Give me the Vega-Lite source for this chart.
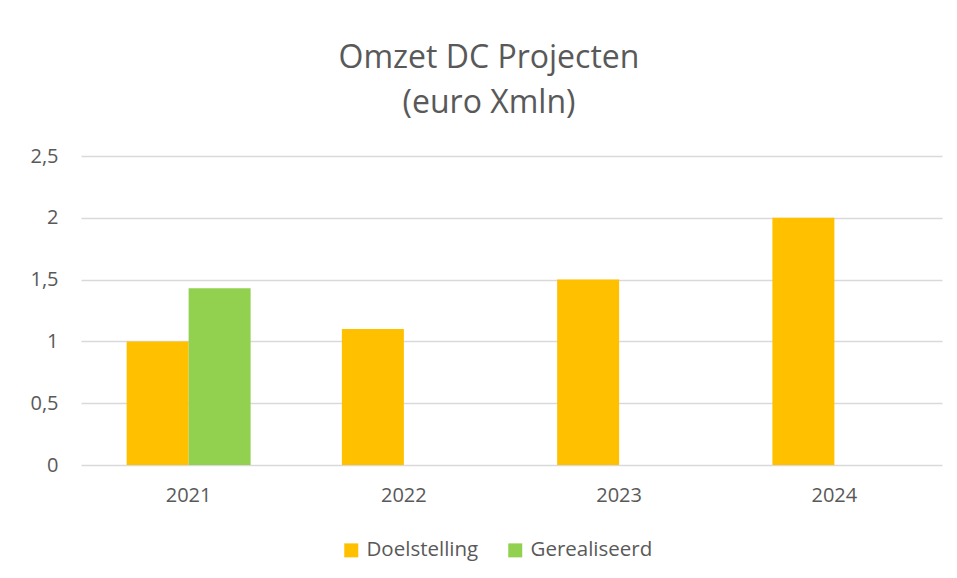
{
  "$schema": "https://vega.github.io/schema/vega-lite/v6.json",
  "width": 861,
  "height": 309,
  "autosize": {"type": "none"},
  "padding": {"left": 81, "top": 156, "right": 15, "bottom": 113},
  "background": "white",
  "data": {
    "values": [
      {"jaar": "2021", "reeks": "Doelstelling", "omzet": 1.0},
      {"jaar": "2021", "reeks": "Gerealiseerd", "omzet": 1.43},
      {"jaar": "2022", "reeks": "Doelstelling", "omzet": 1.1},
      {"jaar": "2023", "reeks": "Doelstelling", "omzet": 1.5},
      {"jaar": "2024", "reeks": "Doelstelling", "omzet": 2.0}
    ]
  },
  "title": {
    "text": ["Omzet DC Projecten", "(euro Xmln)"],
    "anchor": "middle",
    "frame": "bounds",
    "fontSize": 32,
    "fontWeight": "normal",
    "color": "#595959",
    "lineHeight": 45,
    "offset": 26,
    "dx": 3
  },
  "mark": {"type": "bar"},
  "encoding": {
    "x": {
      "field": "jaar",
      "type": "nominal",
      "title": null,
      "scale": {"paddingInner": 0.424, "paddingOuter": 0.212},
      "axis": {
        "labelAngle": 0,
        "domain": false,
        "ticks": false,
        "labelFontSize": 20,
        "labelColor": "#595959",
        "labelPadding": 20
      }
    },
    "xOffset": {
      "field": "reeks",
      "type": "nominal",
      "scale": {"domain": ["Doelstelling", "Gerealiseerd"], "paddingInner": 0, "paddingOuter": 0}
    },
    "y": {
      "field": "omzet",
      "type": "quantitative",
      "title": null,
      "scale": {"domain": [0, 2.5], "nice": false},
      "axis": {
        "values": [0, 0.5, 1, 1.5, 2, 2.5],
        "format": ".1~f",
        "domain": false,
        "ticks": false,
        "grid": true,
        "gridColor": "#D9D9D9",
        "gridWidth": 1.5,
        "labelFontSize": 20,
        "labelColor": "#595959",
        "labelPadding": 23
      }
    },
    "color": {
      "field": "reeks",
      "type": "nominal",
      "scale": {"domain": ["Doelstelling", "Gerealiseerd"], "range": ["#FFC000", "#92D050"]},
      "legend": {
        "title": null,
        "orient": "none",
        "direction": "horizontal",
        "legendX": 260,
        "legendY": 384,
        "symbolType": "square",
        "symbolSize": 196,
        "symbolStrokeWidth": 0,
        "labelFontSize": 20.5,
        "labelColor": "#595959",
        "labelOffset": 5,
        "columnPadding": 26
      }
    }
  },
  "config": {
    "font": "Open Sans",
    "view": {"stroke": null},
    "locale": {
      "number": {"decimal": ",", "thousands": ".", "grouping": [3], "currency": ["€", ""]}
    }
  }
}
